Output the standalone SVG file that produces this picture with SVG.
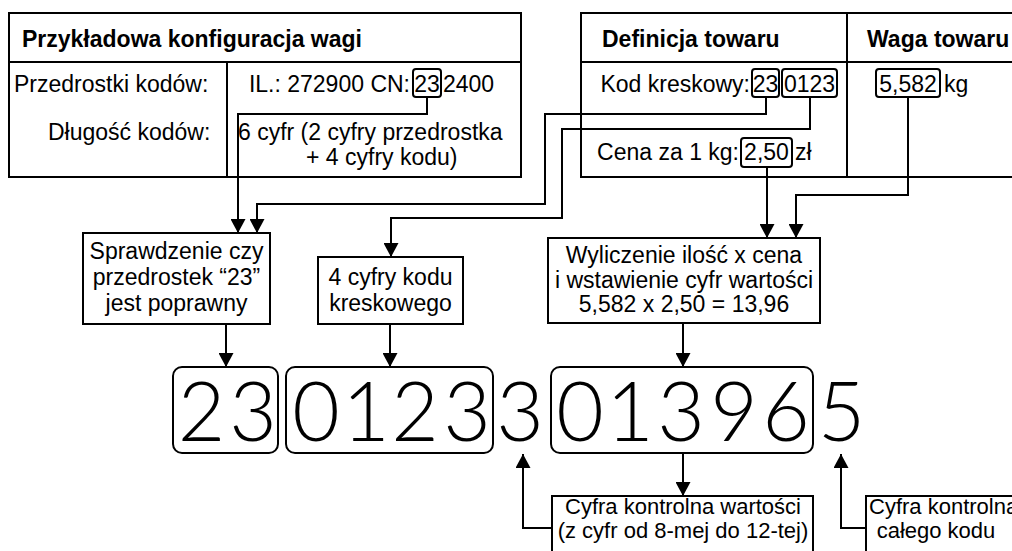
<svg xmlns="http://www.w3.org/2000/svg" width="1012" height="551" viewBox="0 0 1012 551">
<defs>
<style>
.t{font-family:"Liberation Sans",Arial,sans-serif;font-size:23px;fill:#000}
.s{font-size:22px}
.b{font-family:"Liberation Sans",Arial,sans-serif;font-size:23px;font-weight:bold;fill:#000}
.c{text-anchor:middle}
.e{text-anchor:end}
.box{fill:#fff;stroke:#000;stroke-width:2}
.ib{fill:none;stroke:#000;stroke-width:2}
.big{font-family:Lato,"Liberation Sans",sans-serif;font-weight:300;font-size:82px;text-anchor:middle;fill:#000}
.ln{fill:none;stroke:#000;stroke-width:2}
</style>
<marker id="ah" viewBox="0 0 14 15" refX="14" refY="7.5" markerWidth="14" markerHeight="15" markerUnits="userSpaceOnUse" orient="auto">
<path d="M0,0 L14,7.5 L0,15 Z" fill="#000"/>
</marker>
</defs>
<rect width="1012" height="551" fill="#fff"/>

<g id="config-table">
<rect class="box" x="9" y="13" width="512" height="164"/>
<line class="ln" x1="9" y1="62" x2="521" y2="62"/>
<line class="ln" x1="227" y1="62" x2="227" y2="177"/>
<text class="b" x="22" y="47">Przykładowa konfiguracja wagi</text>
<text class="t" x="14" y="92">Przedrostki kodów:</text>
<text class="t e" x="410" y="92">IL.: 272900 CN:</text>
<rect class="ib" x="413" y="69" width="28" height="28" rx="3"/>
<text class="t c" x="427" y="92">23</text>
<text class="t" x="443" y="92">2400</text>
<text class="t" x="48" y="140">Długość kodów:</text>
<text class="t" x="238" y="140">6 cyfr (2 cyfry przedrostka</text>
<text class="t" x="306" y="165">+ 4 cyfry kodu)</text>
</g>

<g id="product-table">
<rect class="box" x="581" y="13" width="440" height="164"/>
<line class="ln" x1="581" y1="62" x2="1021" y2="62"/>
<line class="ln" x1="847" y1="13" x2="847" y2="177"/>
<text class="b" x="602" y="47">Definicja towaru</text>
<text class="b" x="867" y="47">Waga towaru</text>
<text class="t e" x="750" y="92">Kod kreskowy:</text>
<rect class="ib" x="752" y="69" width="27" height="28" rx="3"/>
<text class="t c" x="765.5" y="92">23</text>
<rect class="ib" x="782" y="69" width="55" height="28" rx="3"/>
<text class="t c" x="809.5" y="92">0123</text>
<rect class="ib" x="876" y="69" width="64" height="28" rx="3"/>
<text class="t c" x="908" y="92">5,582</text>
<text class="t" x="944" y="92">kg</text>
<text class="t e" x="739" y="160">Cena za 1 kg:</text>
<rect class="ib" x="741" y="138" width="51" height="29" rx="3"/>
<text class="t c" x="766.5" y="160">2,50</text>
<text class="t" x="795" y="160">zł</text>
</g>

<g id="connectors">
<path class="ln" d="M427,97 V114 H238 V233" marker-end="url(#ah)"/>
<path class="ln" d="M766,97 V114 H545 V204 H257 V233" marker-end="url(#ah)"/>
<path class="ln" d="M810,97 V129 H562 V218 H391 V257" marker-end="url(#ah)"/>
<path class="ln" d="M767,167 V238" marker-end="url(#ah)"/>
<path class="ln" d="M908,97 V195 H796 V238" marker-end="url(#ah)"/>
<path class="ln" d="M226,324 V367" marker-end="url(#ah)"/>
<path class="ln" d="M390,324 V367" marker-end="url(#ah)"/>
<path class="ln" d="M683,323 V367" marker-end="url(#ah)"/>
<path class="ln" d="M683,453 V496" marker-end="url(#ah)"/>
<path class="ln" d="M552,528 H523 V454" marker-end="url(#ah)"/>
<path class="ln" d="M866,528 H841 V454" marker-end="url(#ah)"/>
</g>

<g id="check-prefix">
<rect class="box" x="83" y="233" width="187" height="91"/>
<text class="t c" x="176.5" y="259">Sprawdzenie czy</text>
<text class="t c" x="176.5" y="285">przedrostek “23”</text>
<text class="t c" x="176.5" y="311">jest poprawny</text>
</g>

<g id="code-digits">
<rect class="box" x="318" y="257" width="145" height="67"/>
<text class="t c" x="390.5" y="285">4 cyfry kodu</text>
<text class="t c" x="390.5" y="311">kreskowego</text>
</g>

<g id="compute">
<rect class="box" x="548" y="238" width="272" height="85"/>
<text class="t c" x="684" y="263">Wyliczenie ilość x cena</text>
<text class="t c" x="684" y="288">i wstawienie cyfr wartości</text>
<text class="t c" x="684" y="312">5,582 x 2,50 = 13,96</text>
</g>

<g id="barcode">
<rect class="ib" x="173" y="367" width="105" height="86" rx="9"/>
<rect class="ib" x="286" y="367" width="207" height="86" rx="9"/>
<rect class="ib" x="551" y="367" width="262" height="86" rx="9"/>
<text class="big" x="201.5" y="441">2</text>
<text class="big" x="253" y="441">3</text>
<text class="big" x="316" y="441">0</text>
<text class="big" x="366" y="441">1</text>
<text class="big" x="415" y="441">2</text>
<text class="big" x="467" y="441">3</text>
<text class="big" x="520" y="441">3</text>
<text class="big" x="580" y="441">0</text>
<text class="big" x="630" y="441">1</text>
<text class="big" x="681" y="441">3</text>
<text class="big" x="734" y="441">9</text>
<text class="big" x="786" y="441">6</text>
<text class="big" x="841.5" y="441">5</text>
</g>

<g id="check-value">
<rect class="box" x="552" y="496" width="261" height="70"/>
<text class="t s c" x="683" y="514">Cyfra kontrolna wartości</text>
<text class="t s c" x="683" y="538">(z cyfr od 8-mej do 12-tej)</text>
</g>

<g id="check-code">
<rect class="box" x="866" y="496" width="160" height="70"/>
<text class="t s" x="869" y="514">Cyfra kontrolna</text>
<text class="t s c" x="936" y="538">całego kodu</text>
</g>
</svg>
